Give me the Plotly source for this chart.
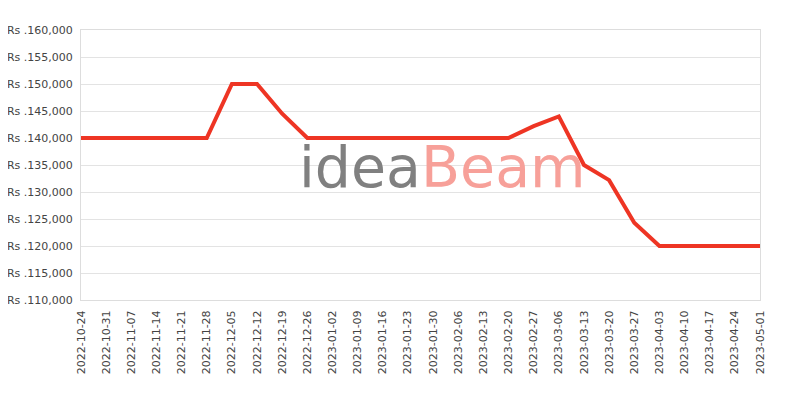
import plotly.graph_objects as go

dates = ["2022-10-24", "2022-10-31", "2022-11-07", "2022-11-14", "2022-11-21", "2022-11-28",
         "2022-12-05", "2022-12-12", "2022-12-19", "2022-12-26", "2023-01-02", "2023-01-09",
         "2023-01-16", "2023-01-23", "2023-01-30", "2023-02-06", "2023-02-13", "2023-02-20",
         "2023-02-27", "2023-03-06", "2023-03-13", "2023-03-20", "2023-03-27", "2023-04-03",
         "2023-04-10", "2023-04-17", "2023-04-24", "2023-05-01"]
prices = [140000, 140000, 140000, 140000, 140000, 140000,
          150000, 150000, 144500, 140000, 140000, 140000,
          140000, 140000, 140000, 140000, 140000, 140000,
          142200, 144000, 135000, 132200, 124300, 120000,
          120000, 120000, 120000, 120000]
yticks = [110000, 115000, 120000, 125000, 130000, 135000, 140000, 145000, 150000, 155000, 160000]
ytick_labels = ["Rs .{:,}".format(v) for v in yticks]

fig = go.Figure()
fig.add_trace(go.Scatter(x=dates, y=prices, mode="lines",
                         line=dict(color="#EE3524", width=4), hoverinfo="skip"))

fig.add_annotation(x=0.5, y=0.5, xref="paper", yref="paper", xanchor="center", yanchor="middle",
                   showarrow=False,
                   text="<span style='color:#808080'>idea</span><span style='color:#F7A099'>Beam</span>",
                   font=dict(family="DejaVu Sans, sans-serif", size=57),
                   xshift=22, yshift=-2)

fig.update_layout(
    width=800, height=400,
    margin=dict(l=73, r=48, t=22, b=108),
    paper_bgcolor="white", plot_bgcolor="white",
    showlegend=False,
    font=dict(family="DejaVu Sans, sans-serif", size=11, color="#444444"),
    xaxis=dict(type="category", range=[0, len(dates) - 1], tickangle=-90, automargin=False,
               showgrid=False, showline=True, linecolor="#dddddd", mirror=True,
               ticks="", ticklabelstandoff=5, tickfont=dict(size=11, color="#444444")),
    yaxis=dict(range=[110000, 160000], tickvals=yticks, ticktext=ytick_labels, automargin=False,
               showgrid=True, gridcolor="#e3e3e3", showline=True, linecolor="#dddddd", mirror=True,
               zeroline=False, ticks="", ticklabelstandoff=5, tickfont=dict(size=11, color="#444444")),
)

fig.write_html("out.html")
